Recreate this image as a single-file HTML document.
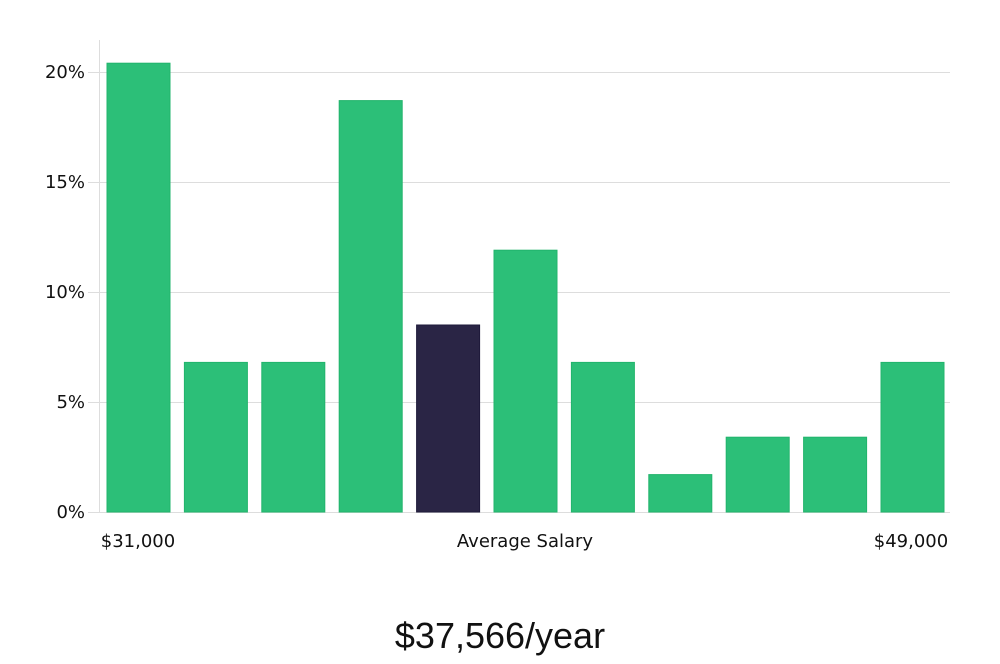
<!DOCTYPE html>
<html><head><meta charset="utf-8"><style>
body{margin:0;background:#fff;width:1000px;height:660px;overflow:hidden;font-family:"DejaVu Sans","Liberation Sans",sans-serif}
</style></head><body>
<svg width="1000" height="660">
<g id="grid"></g><g id="bars"></g><g id="ylabels"></g>
<line x1="99.5" y1="40" x2="99.5" y2="512" stroke="#ddd"/>
<text x="138" y="547" font-size="18" text-anchor="middle" fill="#111">$31,000</text>
<text x="525" y="547" font-size="18" text-anchor="middle" fill="#111">Average Salary</text>
<text x="911" y="547" font-size="18" text-anchor="middle" fill="#111">$49,000</text>
<text x="500" y="648" font-size="36" text-anchor="middle" fill="#111" font-family="'Liberation Sans',sans-serif">$37,566/year</text>
</svg>
<script>
const values=[20.4,6.8,6.8,18.7,8.5,11.9,6.8,1.7,3.4,3.4,6.8];
const highlight=[false,false,false,false,true,false,false,false,false,false,false];
const ticks=[0,5,10,15,20];
const ns="http://www.w3.org/2000/svg";
const y=v=>512-v*22;
const x0=99,step=77.4,bw=63;
const g=document.getElementById('grid'),b=document.getElementById('bars'),yl=document.getElementById('ylabels');
ticks.forEach(t=>{
 const l=document.createElementNS(ns,'line');
 l.setAttribute('x1',88);l.setAttribute('x2',950);l.setAttribute('y1',y(t)+0.5);l.setAttribute('y2',y(t)+0.5);
 l.setAttribute('stroke','#ddd');
 
 
 g.appendChild(l);
 const tx=document.createElementNS(ns,'text');
 tx.setAttribute('x',85);tx.setAttribute('y',y(t)+6);tx.setAttribute('text-anchor','end');tx.setAttribute('font-size','18');tx.setAttribute('fill','#111');
 tx.textContent=t+'%';
 
 
 yl.appendChild(tx);
});
values.forEach((v,i)=>{
 const r=document.createElementNS(ns,'rect');
 r.setAttribute('x',x0+8+i*step);r.setAttribute('width',bw);
 r.setAttribute('y',y(v));r.setAttribute('height',512-y(v));
 r.setAttribute('fill',highlight[i]?'#2a2545':'#2cbf78');
 r.setAttribute('stroke',highlight[i]?'#1e1a3a':'#22b46c');
 
 
 b.appendChild(r);
});
</script>
</body></html>
